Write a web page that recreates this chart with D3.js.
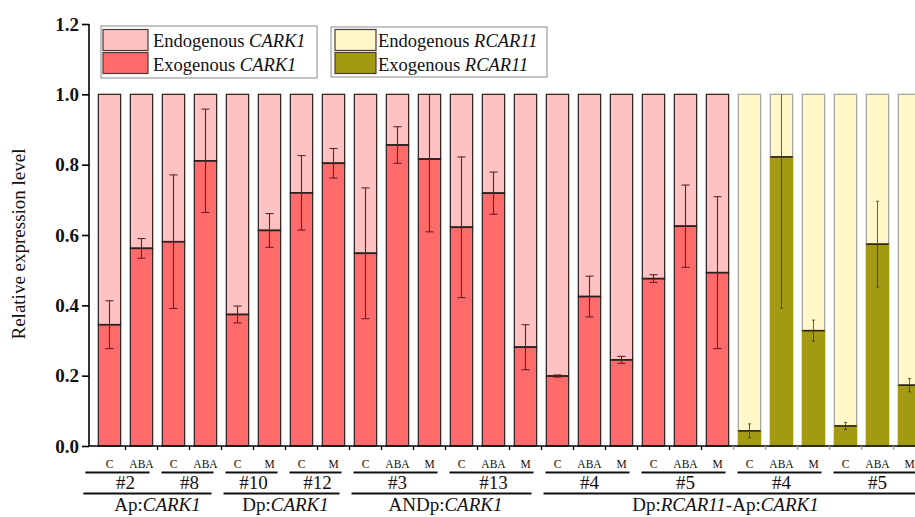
<!DOCTYPE html>
<html>
<head>
<meta charset="utf-8">
<script src="https://cdn.jsdelivr.net/npm/d3@7/dist/d3.min.js"></script>
<style>
  html, body { margin: 0; padding: 0; background: #fff; }
  svg { display: block; font-family: "Liberation Serif", "Times New Roman", serif; }
</style>
</head>
<body>
<svg id="chart" width="915" height="517"></svg>
<script>
// ---------------- data ----------------
const treatments = ["C","ABA","C","ABA","C","M","C","M","C","ABA","M","C","ABA","M",
                    "C","ABA","M","C","ABA","M","C","ABA","M","C","ABA","M"];
const exogenous = [0.345,0.562,0.581,0.811,0.374,0.613,0.720,0.804,0.548,0.856,0.816,0.622,0.719,0.281,
                   0.199,0.425,0.245,0.476,0.625,0.493,0.043,0.822,0.328,0.057,0.574,0.173];
const errors    = [0.068,0.028,0.190,0.147,0.024,0.048,0.106,0.042,0.186,0.052,0.207,0.200,0.060,0.064,
                   0.003,0.058,0.010,0.011,0.117,0.216,0.020,0.430,0.030,0.010,0.122,0.019];
const genes     = ["CARK1","CARK1","CARK1","CARK1","CARK1","CARK1","CARK1","CARK1","CARK1","CARK1","CARK1","CARK1","CARK1","CARK1",
                   "CARK1","CARK1","CARK1","CARK1","CARK1","CARK1","RCAR11","RCAR11","RCAR11","RCAR11","RCAR11","RCAR11"];
const lineNames = ["#2","#8","#10","#12","#3","#13","#4","#5","#4","#5"];
const lineSizes = [2,2,2,2,3,3,3,3,3,3];
const groups = [
  {parts:[["Ap:",false],["CARK1",true]], lines:2},
  {parts:[["Dp:",false],["CARK1",true]], lines:2},
  {parts:[["ANDp:",false],["CARK1",true]], lines:2},
  {parts:[["Dp:",false],["RCAR11",true],["-Ap:",false],["CARK1",true]], lines:4}
];
const yTicks = [0.0,0.2,0.4,0.6,0.8,1.0,1.2];
const legendItems = [
  [{label:"Endogenous ", gene:"CARK1", key:"CARK1-endo"},{label:"Exogenous ", gene:"CARK1", key:"CARK1-exo"}],
  [{label:"Endogenous ", gene:"RCAR11", key:"RCAR11-endo"},{label:"Exogenous ", gene:"RCAR11", key:"RCAR11-exo"}]
];

// ---------------- styles ----------------
const colors = {
  "CARK1-endo": "#FFC2C2", "CARK1-exo": "#FF6A6A",
  "RCAR11-endo": "#FFF7C8", "RCAR11-exo": "#A39A14"
};
const outline = {CARK1: "#3b2626", RCAR11: "#a8a8a0"};
const errColor = {CARK1: "#6b1e1e", RCAR11: "#3a3a20"};

const svg = d3.select("#chart");

const x = d3.scaleBand().domain(d3.range(treatments.length))
  .range([93.5, 925.5]).paddingInner(0.303).paddingOuter(0.1515);
const y = d3.scaleLinear().domain([0, 1.2]).range([446, 24]);
const bw = x.bandwidth();
const gap = x.step() - bw;

const data = treatments.map((t, i) => ({i, t, exo: exogenous[i], err: errors[i], gene: genes[i]}));

// ---------------- bars ----------------
const bars = svg.append("g");
bars.selectAll("rect.endo").data(data).join("rect")
  .attr("x", d => x(d.i)).attr("width", bw)
  .attr("y", y(1)).attr("height", d => y(d.exo) - y(1))
  .attr("fill", d => colors[d.gene + "-endo"])
  .attr("stroke", d => outline[d.gene]).attr("stroke-width", 1.3);
bars.selectAll("rect.exo").data(data).join("rect")
  .attr("x", d => x(d.i)).attr("width", bw)
  .attr("y", d => y(d.exo)).attr("height", d => y(0) - y(d.exo))
  .attr("fill", d => colors[d.gene + "-exo"])
  .attr("stroke", d => d.gene === "CARK1" ? outline.CARK1 : colors["RCAR11-exo"]).attr("stroke-width", 1.3);
bars.selectAll("line.div").data(data).join("line")
  .attr("x1", d => x(d.i)).attr("x2", d => x(d.i) + bw)
  .attr("y1", d => y(d.exo)).attr("y2", d => y(d.exo))
  .attr("stroke", "#2a2020").attr("stroke-width", 1.6);

// ---------------- error bars ----------------
const eb = svg.append("g");
data.forEach(d => {
  const cx = x(d.i) + bw / 2;
  const top = Math.min(1, d.exo + d.err), bot = d.exo - d.err;
  const cap = d.gene === "CARK1" ? 4 : 1.5;
  const sw = d.gene === "CARK1" ? 1.1 : 0.8;
  const g = eb.append("g").attr("stroke", errColor[d.gene]).attr("stroke-width", sw);
  g.append("line").attr("x1", cx).attr("x2", cx).attr("y1", y(top)).attr("y2", y(bot));
  if (d.exo + d.err < 1) g.append("line").attr("x1", cx - cap).attr("x2", cx + cap).attr("y1", y(top)).attr("y2", y(top));
  g.append("line").attr("x1", cx - cap).attr("x2", cx + cap).attr("y1", y(bot)).attr("y2", y(bot));
});

// ---------------- axes ----------------
const yAxis = svg.append("g").attr("transform", "translate(89,0)")
  .call(d3.axisLeft(y).tickValues(yTicks).tickFormat(d3.format(".1f")).tickSize(7).tickPadding(3));
yAxis.select(".domain").attr("stroke", "#000").attr("stroke-width", 1.6).attr("d", `M0,${y(1.2)}V${y(0)}`);
yAxis.selectAll(".tick line").attr("stroke", "#000").attr("stroke-width", 1.6);
yAxis.selectAll(".tick text").attr("font-family", "Liberation Serif").attr("font-weight", "bold")
  .attr("font-size", 19).attr("fill", "#111");

svg.append("line").attr("x1", 89).attr("x2", 915).attr("y1", y(0)).attr("y2", y(0))
  .attr("stroke", "#000").attr("stroke-width", 1.6);
d3.range(1, treatments.length).forEach(i => {
  const bx = x(i) - gap / 2;
  svg.append("line").attr("x1", bx).attr("x2", bx).attr("y1", y(0)).attr("y2", y(0) + 4)
    .attr("stroke", genes[i] === "RCAR11" ? "#999" : "#000").attr("stroke-width", 1.3);
});

svg.append("text").attr("transform", `translate(25,244) rotate(-90)`)
  .attr("text-anchor", "middle").attr("font-size", 19).attr("fill", "#111")
  .text("Relative expression level");

// ---------------- x labels ----------------
const xl = svg.append("g");
xl.selectAll("text.trt").data(data).join("text")
  .attr("x", d => x(d.i) + bw / 2).attr("y", 468)
  .attr("text-anchor", "middle").attr("font-size", 11.5).attr("fill", "#111")
  .text(d => d.t);

let start = 0;
lineNames.forEach((name, li) => {
  const a = start, b = start + lineSizes[li] - 1;
  const x1 = (li === 0 ? x(a) - 13 : x(a) - gap / 2 + 4);
  const x2 = x(b) + bw + gap / 2 - 8;
  xl.append("line").attr("x1", x1).attr("x2", Math.min(x2, 915)).attr("y1", 472.5).attr("y2", 472.5)
    .attr("stroke", "#111").attr("stroke-width", 1.8);
  xl.append("text").attr("x", (x(a) + x(b) + bw) / 2).attr("y", 488.5)
    .attr("text-anchor", "middle").attr("font-size", 19).attr("fill", "#111").text(name);
  start += lineSizes[li];
});

start = 0;
let lineIdx = 0;
groups.forEach((g, gi) => {
  let n = 0;
  for (let k = 0; k < g.lines; k++) n += lineSizes[lineIdx + k];
  const a = start, b = start + n - 1;
  const x1 = (gi === 0 ? x(a) - 15 : x(a) - gap / 2 + 2);
  const x2 = x(b) + bw + gap / 2 - 10;
  xl.append("line").attr("x1", x1).attr("x2", Math.min(x2, 915)).attr("y1", 493.5).attr("y2", 493.5)
    .attr("stroke", "#111").attr("stroke-width", 1.8);
  const t = xl.append("text").attr("x", (x(a) + x(b) + bw) / 2 - (gi === 3 ? 8 : 0)).attr("y", 510.5)
    .attr("text-anchor", "middle").attr("font-size", 19).attr("fill", "#111");
  g.parts.forEach(p => t.append("tspan").attr("font-style", p[1] ? "italic" : "normal").text(p[0]));
  start += n;
  lineIdx += g.lines;
});

// ---------------- legends ----------------
const legendBoxes = [{x: 101, y: 26, w: 216, h: 52, sx: 103, sw: 45, tx: 153},
                     {x: 331, y: 27, w: 216, h: 50, sx: 335, sw: 41, tx: 378}];
legendItems.forEach((items, li) => {
  const L = legendBoxes[li];
  const g = svg.append("g");
  g.append("rect").attr("x", L.x).attr("y", L.y).attr("width", L.w).attr("height", L.h)
    .attr("fill", "#fff").attr("stroke", "#8a8a8a").attr("stroke-width", 1);
  items.forEach((it, k) => {
    g.append("rect").attr("x", L.sx).attr("y", 29.5 + k * 23).attr("width", L.sw).attr("height", 21)
      .attr("fill", colors[it.key]).attr("stroke", "#4a3a3a").attr("stroke-width", 1.2);
    const t = g.append("text").attr("x", L.tx).attr("y", 47 + k * 24)
      .attr("font-size", 18.5).attr("fill", "#111");
    t.append("tspan").text(it.label);
    t.append("tspan").attr("font-style", "italic").text(it.gene);
  });
});
</script>
</body>
</html>
